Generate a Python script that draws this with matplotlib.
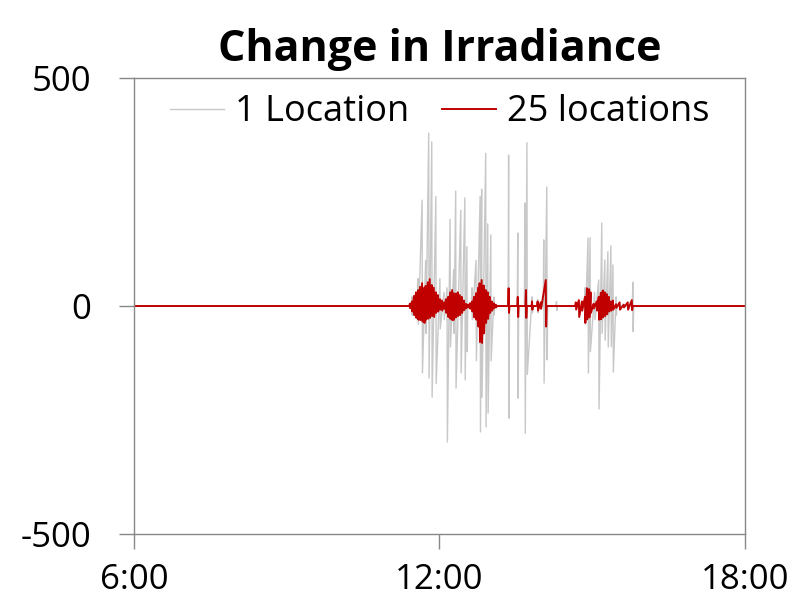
import numpy as np
import matplotlib
matplotlib.use("Agg")
import matplotlib.pyplot as plt

# Spikes: hour of day, upper tip, lower tip (W/m2 change)
gray_hour = [11.46, 11.58, 11.66, 11.73, 11.79, 11.85, 11.93, 12.01, 12.09, 12.15,
             12.21, 12.28, 12.32, 12.42, 12.50, 12.54, 12.64, 12.72, 12.80, 12.83,
             12.91, 12.95, 13.01, 13.07, 13.36, 13.54, 13.68, 13.72, 13.82, 13.93,
             14.05, 14.11, 14.30, 14.86, 14.92, 14.96, 15.05, 15.13, 15.19, 15.25,
             15.31, 15.37, 15.41, 15.47, 15.80]
gray_high = [20, 60, 232, 100, 379, 360, 240, 60, 30, 40,
             190, 80, 252, 210, 237, 130, 40, 100, 240, 256,
             335, 180, 156, 20, 331, 160, 226, 358, 20, 15,
             145, 261, 10, 40, 149, 150, 30, 57, 182, 101,
             119, 132, 90, 20, 52]
gray_low = [-20, -40, -147, -60, -158, -200, -170, -50, -30, -298,
            -90, -60, -180, -147, -162, -100, -30, -120, -276, -200,
            -265, -235, -120, -20, -246, -202, -279, -150, -15, -15,
            -169, -118, -10, -40, -147, -100, -30, -226, -60, -75,
            -90, -89, -145, -20, -56]

red_hour = [11.42, 11.46, 11.50, 11.54, 11.58, 11.62, 11.66, 11.70, 11.73, 11.77,
            11.81, 11.85, 11.89, 11.93, 11.97, 12.01, 12.05, 12.09, 12.13, 12.17,
            12.21, 12.25, 12.28, 12.32, 12.36, 12.40, 12.44, 12.48, 12.52, 12.56,
            12.60, 12.64, 12.68, 12.72, 12.76, 12.79, 12.83, 12.87, 12.91, 12.95,
            12.99, 13.03, 13.07, 13.11, 13.36, 13.54, 13.70, 13.82, 13.93, 13.99,
            14.09, 14.68, 14.74, 14.80, 14.86, 14.90, 14.94, 14.97, 15.03, 15.09,
            15.13, 15.17, 15.21, 15.25, 15.29, 15.33, 15.37, 15.41, 15.47, 15.54,
            15.62, 15.70, 15.78]
red_high = [5, 10, 22, 30, 35, 42, 50, 40, 44, 52,
            59, 46, 40, 30, 24, 15, 12, 8, 15, 20,
            30, 35, 28, 27, 30, 24, 20, 12, 5, 3,
            6, 10, 20, 28, 40, 50, 57, 45, 35, 30,
            20, 10, 6, 3, 39, 20, 35, 10, 10, 8,
            57, 8, 13, 10, 20, 39, 37, 30, 5, 10,
            20, 29, 34, 30, 26, 20, 10, 12, 4, 8,
            3, 8, 13]
red_low = [-5, -12, -20, -26, -30, -31, -34, -37, -30, -28,
           -26, -22, -24, -15, -12, -8, -10, -6, -15, -24,
           -28, -31, -30, -25, -22, -20, -15, -9, -5, -3,
           -6, -12, -25, -30, -45, -79, -81, -60, -37, -28,
           -15, -10, -5, -3, -15, -24, -26, -8, -10, -6,
           -45, -8, -24, -10, -37, -29, -25, -15, -5, -10,
           -30, -29, -25, -22, -18, -12, -10, -8, -4, -8,
           -3, -8, -9]


def trace(hours, highs, lows, start=6.0, end=18.0):
    t, v = [start], [0.0]
    for i, (h, hi, lo) in enumerate(zip(hours, highs, lows)):
        if i == 0 or h - hours[i - 1] > 0.1:
            t.append(h - 0.01)
            v.append(0.0)
        t += [h, h + 0.007]
        v += [hi, lo]
        if i == len(hours) - 1 or hours[i + 1] - h > 0.1:
            t.append(h + 0.017)
            v.append(0.0)
    t.append(end)
    v.append(0.0)
    return np.array(t), np.array(v)


plt.rcParams["font.family"] = ["Open Sans", "DejaVu Sans"]
plt.rcParams["axes.unicode_minus"] = False

fig = plt.figure(figsize=(8.0, 6.09), dpi=100)
ax = fig.add_axes([0.1675, 0.123, 0.7635, 0.749])

gt, gv = trace(gray_hour, gray_high, gray_low)
rt, rv = trace(red_hour, red_high, red_low)
ax.plot(gt, gv, color="#c8c8c8", lw=1.0, label="1 Location")
ax.plot(rt, rv, color="#c00000", lw=1.4, label="25 locations")

ax.set_xlim(6, 18)
ax.set_ylim(-500, 500)
ax.set_xticks([6, 12, 18])
ax.set_xticklabels(["6:00", "12:00", "18:00"])
ax.set_yticks([-500, 0, 500])
ax.tick_params(axis="both", labelsize=25, colors="#888888", labelcolor="black",
               length=11, width=1.0, direction="out")
ax.tick_params(axis="y", pad=20)
ax.tick_params(axis="x", pad=10)
for s in ax.spines.values():
    s.set_color("#888888")
    s.set_linewidth(1.0)

ax.set_title("Change in Irradiance", fontsize=31, fontweight="bold", pad=12)
ax.legend(loc="upper center", ncol=2, frameon=False, fontsize=26,
          handlelength=1.5, handletextpad=0.3, columnspacing=0.9,
          bbox_to_anchor=(0.5, 1.035))

fig.savefig("out.png", dpi=100)
